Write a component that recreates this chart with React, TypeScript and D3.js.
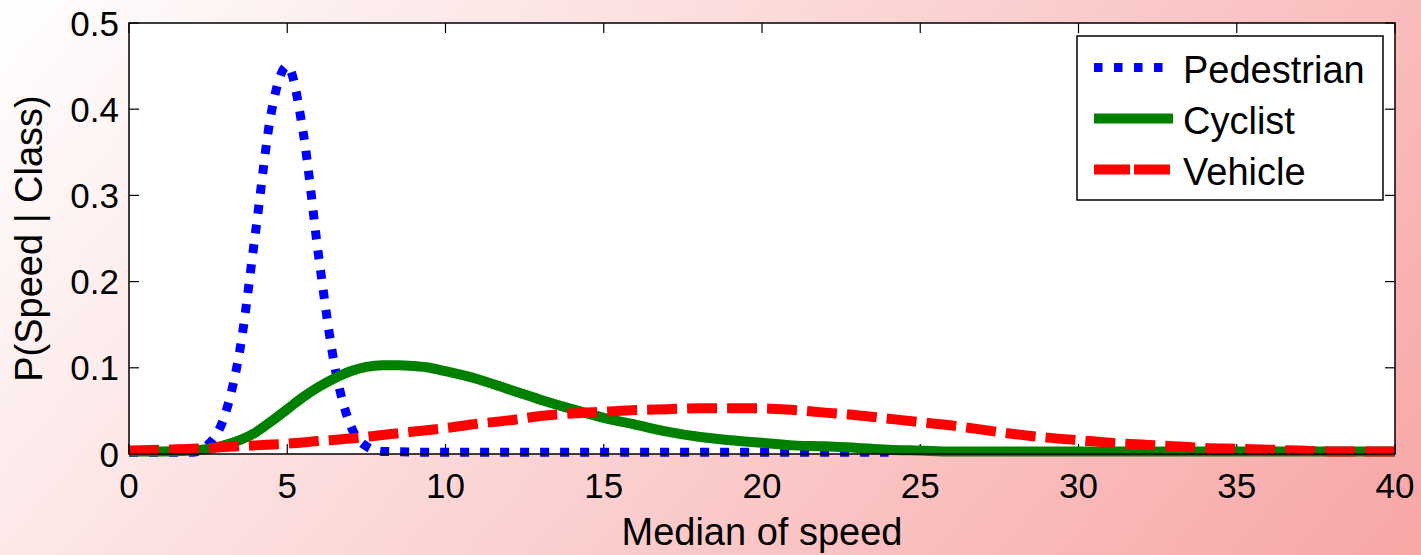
import React from "react";
import * as d3 from "d3";

const pedX = [0, 2, 2.5, 3, 3.5, 4, 4.5, 5, 5.5, 6, 6.5, 7, 7.5, 8, 10, 15, 20, 24];
const pedY = [0.002, 0.002, 0.011, 0.042, 0.12, 0.258, 0.397, 0.45, 0.374, 0.227, 0.102, 0.033, 0.009, 0.003, 0.002, 0.002, 0.002, 0.002];

const cycX = [0, 1, 2, 2.5, 3, 3.5, 4, 4.5, 5, 5.5, 6, 6.5, 7, 7.5, 8, 8.5, 9, 9.5, 10, 11, 12, 13, 14, 15, 16, 17, 18, 19, 20, 21, 22, 23, 24, 25, 26, 28, 30, 35, 40];
const cycY = [0.003, 0.003, 0.004, 0.006, 0.01, 0.016, 0.025, 0.038, 0.052, 0.066, 0.078, 0.088, 0.096, 0.101, 0.103, 0.103, 0.102, 0.1, 0.096, 0.087, 0.075, 0.063, 0.052, 0.042, 0.034, 0.026, 0.02, 0.016, 0.013, 0.01, 0.009, 0.007, 0.005, 0.004, 0.003, 0.003, 0.003, 0.003, 0.003];

const vehX = [0, 1, 2, 3, 4, 5, 6, 7, 8, 9, 10, 11, 12, 13, 14, 15, 16, 17, 18, 19, 20, 21, 22, 23, 24, 25, 26, 27, 28, 29, 30, 31, 32, 33, 34, 35, 36, 37, 38, 39, 40];
const vehY = [0.004, 0.005, 0.006, 0.008, 0.01, 0.012, 0.015, 0.018, 0.022, 0.026, 0.03, 0.035, 0.039, 0.044, 0.047, 0.049, 0.051, 0.052, 0.053, 0.053, 0.053, 0.051, 0.048, 0.045, 0.041, 0.037, 0.033, 0.028, 0.023, 0.019, 0.016, 0.013, 0.011, 0.009, 0.007, 0.006, 0.005, 0.004, 0.003, 0.003, 0.003];

const xTicks = [0, 5, 10, 15, 20, 25, 30, 35, 40];
const yTicks = [0, 0.1, 0.2, 0.3, 0.4, 0.5];
const yTickLabels = ["0", "0.1", "0.2", "0.3", "0.4", "0.5"];
const seriesNames = ["Pedestrian", "Cyclist", "Vehicle"];

const W = 1421;
const H = 555;
const L = 129, R = 1395, T = 23, B = 454;
const FONT = "'Liberation Sans', Arial, Helvetica, sans-serif";

export default function App() {
  const x = d3.scaleLinear().domain([0, 40]).range([L, R]);
  const y = d3.scaleLinear().domain([0, 0.5]).range([B, T]);
  const line = d3
    .line<[number, number]>()
    .x((d) => x(d[0]))
    .y((d) => y(d[1]))
    .curve(d3.curveMonotoneX);

  const ped = line(pedX.map((v, i) => [v, pedY[i]] as [number, number])) || "";
  const cyc = line(cycX.map((v, i) => [v, cycY[i]] as [number, number])) || "";
  const veh = line(vehX.map((v, i) => [v, vehY[i]] as [number, number])) || "";

  const styles = [
    { stroke: "#0000ff", width: 9, dash: "9 11" },
    { stroke: "#008000", width: 10, dash: "none" },
    { stroke: "#ff0000", width: 10, dash: "30 10" },
  ];
  const paths = [ped, cyc, veh];
  const tl = 10;

  return (
    <svg
      width={W}
      height={H}
      style={{ position: "absolute", left: 0, top: 0 }}
      fontFamily={FONT}
    >
      <defs>
        <linearGradient id="bg" gradientUnits="userSpaceOnUse" x1="0" y1="0" x2="1095" y2="934">
          <stop offset="0" stopColor="#ffffff" />
          <stop offset="1" stopColor="#f8a6a6" />
        </linearGradient>
      </defs>
      <rect x={0} y={0} width={W} height={H} fill="url(#bg)" />
      <rect x={L} y={T} width={R - L} height={B - T} fill="#ffffff" />

      {xTicks.map((t) => (
        <g key={"xt" + t}>
          <line x1={x(t)} x2={x(t)} y1={B} y2={B - tl} stroke="#000" strokeWidth={1.2} />
          <line x1={x(t)} x2={x(t)} y1={T} y2={T + tl} stroke="#000" strokeWidth={1.2} />
          <text x={x(t)} y={498} fontSize={35} textAnchor="middle" fill="#000">
            {t}
          </text>
        </g>
      ))}
      {yTicks.map((t, i) => (
        <g key={"yt" + t}>
          <line x1={L} x2={L + tl} y1={y(t)} y2={y(t)} stroke="#000" strokeWidth={1.2} />
          <line x1={R} x2={R - tl} y1={y(t)} y2={y(t)} stroke="#000" strokeWidth={1.2} />
          <text x={119} y={y(t)} dy="0.36em" fontSize={35} textAnchor="end" fill="#000">
            {yTickLabels[i]}
          </text>
        </g>
      ))}

      {paths.map((p, i) => (
        <path
          key={"s" + i}
          d={p}
          fill="none"
          stroke={styles[i].stroke}
          strokeWidth={styles[i].width}
          strokeDasharray={styles[i].dash}
          strokeLinejoin="round"
        />
      ))}

      <rect x={L} y={T} width={R - L} height={B - T} fill="none" stroke="#000" strokeWidth={1.5} />

      <rect x={1077} y={36} width={306} height={164} fill="#ffffff" stroke="#000" strokeWidth={1.5} />
      {seriesNames.map((n, i) => {
        const cy = 67.5 + i * 51;
        return (
          <g key={"lg" + n}>
            <line
              x1={1094}
              x2={1173}
              y1={cy}
              y2={cy}
              stroke={styles[i].stroke}
              strokeWidth={styles[i].width}
              strokeDasharray={i === 2 ? "36 4" : i === 0 ? "8.5 11.5" : "none"}
            />
            <text x={1183} y={cy + 15.5} fontSize={38} fill="#000">
              {n}
            </text>
          </g>
        );
      })}

      <text x={762} y={545} fontSize={38} textAnchor="middle" fill="#000">
        Median of speed
      </text>
      <text
        transform={`translate(42, ${(T + B) / 2}) rotate(-90)`}
        fontSize={38}
        textAnchor="middle"
        fill="#000"
      >
        P(Speed | Class)
      </text>
    </svg>
  );
}
